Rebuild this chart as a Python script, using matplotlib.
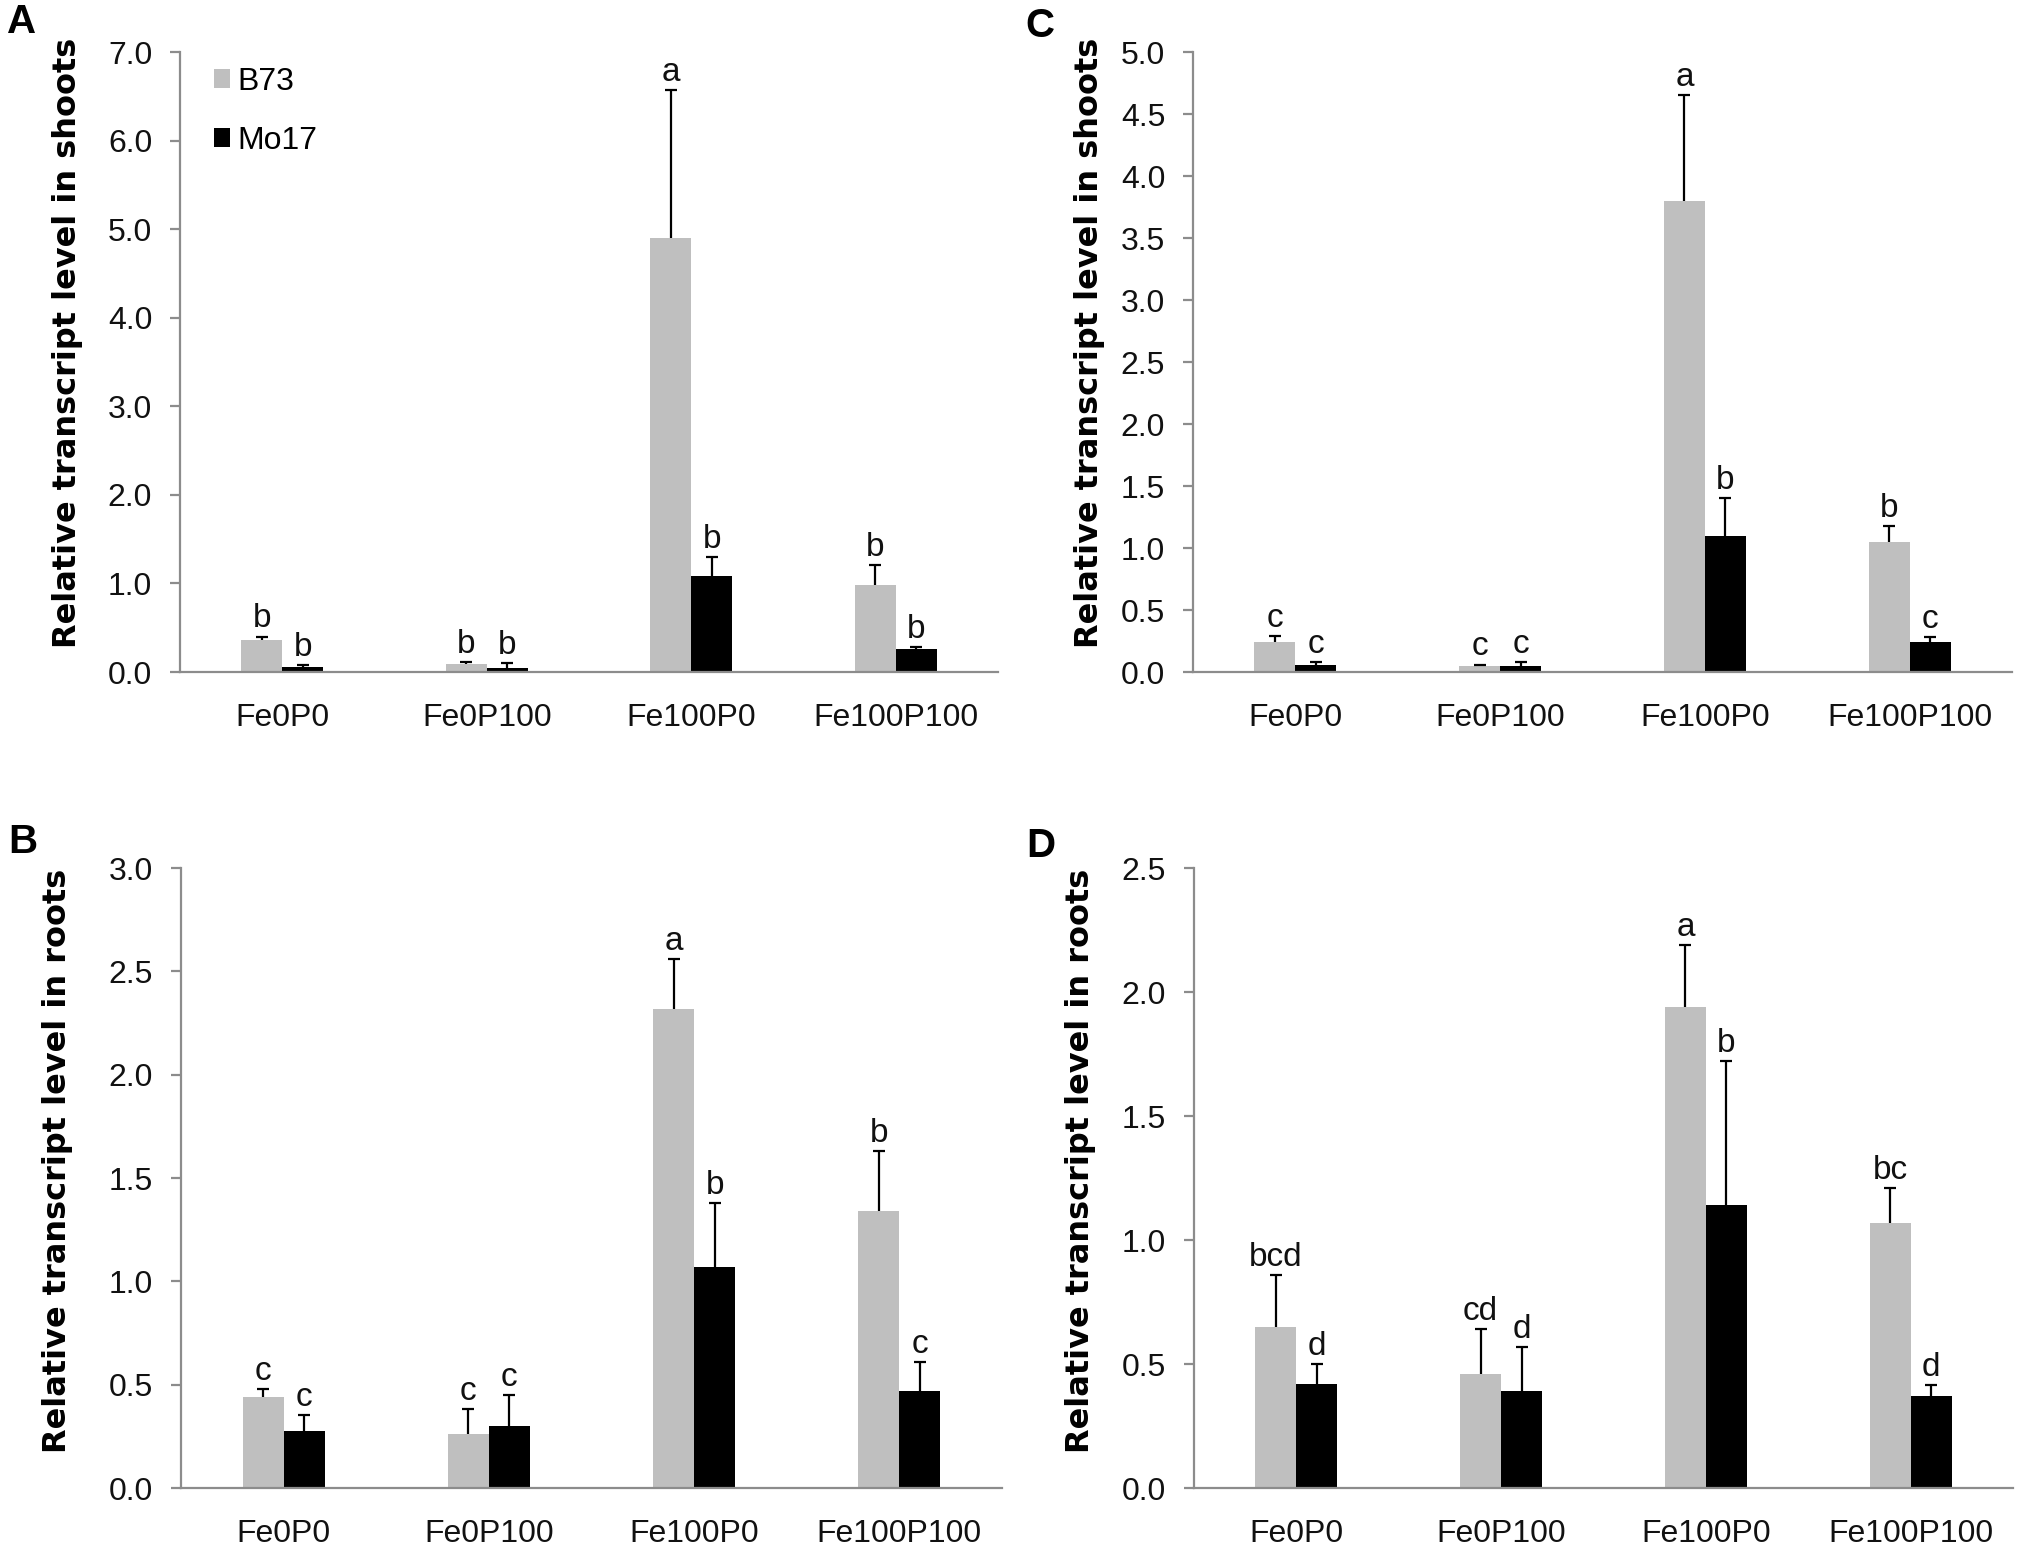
import numpy as np
import matplotlib
matplotlib.use("Agg")
import matplotlib.pyplot as plt
from matplotlib.patches import Patch
from matplotlib import font_manager as fm


def has_font(name):
    try:
        fm.findfont(fm.FontProperties(family=name), fallback_to_default=False)
        return True
    except Exception:
        return False


if has_font('Liberation Sans Narrow'):
    TXT_FAMILY = ['Liberation Sans Narrow', 'Liberation Sans', 'DejaVu Sans']
    TXT_SIZE = 26
    LET_SIZE = 27
else:
    TXT_FAMILY = ['Liberation Sans', 'DejaVu Sans']
    TXT_SIZE = 23
    LET_SIZE = 24

plt.rcParams['font.family'] = TXT_FAMILY

W, H = 2019, 1552
DPI = 100

categories = ["Fe0P0", "Fe0P100", "Fe100P0", "Fe100P100"]
series_names = ["B73", "Mo17"]

# Panel A: shoots
A_b73 = [0.36, 0.09, 4.90, 0.98]
A_b73_err = [0.04, 0.02, 1.67, 0.23]
A_mo17 = [0.06, 0.05, 1.08, 0.26]
A_mo17_err = [0.02, 0.05, 0.22, 0.02]
A_b73_letters = ["b", "b", "a", "b"]
A_mo17_letters = ["b", "b", "b", "b"]
A_yticks = [0.0, 1.0, 2.0, 3.0, 4.0, 5.0, 6.0, 7.0]

# Panel B: roots
B_b73 = [0.44, 0.26, 2.32, 1.34]
B_b73_err = [0.04, 0.12, 0.24, 0.29]
B_mo17 = [0.275, 0.30, 1.07, 0.47]
B_mo17_err = [0.08, 0.15, 0.31, 0.14]
B_b73_letters = ["c", "c", "a", "b"]
B_mo17_letters = ["c", "c", "b", "c"]
B_yticks = [0.0, 0.5, 1.0, 1.5, 2.0, 2.5, 3.0]

# Panel C: shoots
C_b73 = [0.24, 0.05, 3.80, 1.05]
C_b73_err = [0.05, 0.01, 0.85, 0.13]
C_mo17 = [0.06, 0.05, 1.10, 0.24]
C_mo17_err = [0.02, 0.03, 0.30, 0.04]
C_b73_letters = ["c", "c", "a", "b"]
C_mo17_letters = ["c", "c", "b", "c"]
C_yticks = [0.0, 0.5, 1.0, 1.5, 2.0, 2.5, 3.0, 3.5, 4.0, 4.5, 5.0]

# Panel D: roots
D_b73 = [0.65, 0.46, 1.94, 1.07]
D_b73_err = [0.21, 0.18, 0.25, 0.14]
D_mo17 = [0.42, 0.39, 1.14, 0.37]
D_mo17_err = [0.08, 0.18, 0.58, 0.045]
D_b73_letters = ["bcd", "cd", "a", "bc"]
D_mo17_letters = ["d", "d", "b", "d"]
D_yticks = [0.0, 0.5, 1.0, 1.5, 2.0, 2.5]

GRAY = "#bfbfbf"
BLACK = "#000000"
AXCOL = "#8c8c8c"
TXTCOL = "#111111"

fig = plt.figure(figsize=(W / DPI, H / DPI), dpi=DPI)


def add_axes_px(left, right, top, bottom):
    return fig.add_axes([left / W, 1 - bottom / H, (right - left) / W, (bottom - top) / H])


def draw_panel(ax, b73, b73e, mo, moe, bl, ml, yticks, ylabel, label_xy):
    x = np.arange(len(categories))
    w = 0.2
    ax.bar(x - w / 2, b73, width=w, color=GRAY, zorder=2, label=series_names[0])
    ax.bar(x + w / 2, mo, width=w, color=BLACK, zorder=2, label=series_names[1])
    for xs, ys, es in ((x - w / 2, b73, b73e), (x + w / 2, mo, moe)):
        _, caps, _ = ax.errorbar(xs, ys, yerr=[np.zeros(len(es)), es], fmt='none',
                                 ecolor='black', elinewidth=1.6, capsize=4.5,
                                 capthick=1.6, zorder=3)
        if len(caps) > 1:
            caps[0].set_visible(False)
    for xs, ys, es, letters in ((x - w / 2, b73, b73e, bl), (x + w / 2, mo, moe, ml)):
        for xi, yi, ei, lt in zip(xs, ys, es, letters):
            ax.annotate(lt, (xi, yi + ei), xytext=(0, 1.5), textcoords='offset points',
                        ha='center', va='bottom', fontsize=LET_SIZE, color=TXTCOL)
    ax.set_xlim(-0.5, len(categories) - 0.5)
    ax.set_ylim(yticks[0], yticks[-1])
    ax.set_yticks(yticks)
    ax.set_yticklabels([f"{t:.1f}" for t in yticks])
    ax.set_xticks(x)
    ax.set_xticklabels(categories)
    for s in ("top", "right"):
        ax.spines[s].set_visible(False)
    for s in ("left", "bottom"):
        ax.spines[s].set_color(AXCOL)
        ax.spines[s].set_linewidth(1.6)
    ax.tick_params(axis='y', length=7, width=1.6, color=AXCOL, pad=13,
                   labelsize=TXT_SIZE, labelcolor=TXTCOL)
    ax.tick_params(axis='x', length=0, pad=22, labelsize=TXT_SIZE, labelcolor=TXTCOL)
    ax.set_ylabel(ylabel, fontsize=23, fontweight='bold', family=['DejaVu Sans'])
    ax.yaxis.set_label_coords(*label_xy)


# geometry in pixels
axA = add_axes_px(180, 998, 52, 672)
axC = add_axes_px(1193, 2012, 52, 672)
axB = add_axes_px(181, 1002, 868, 1488)
axD = add_axes_px(1194, 2013, 868, 1488)

draw_panel(axA, A_b73, A_b73_err, A_mo17, A_mo17_err, A_b73_letters, A_mo17_letters,
           A_yticks, "Relative transcript level in shoots", ((83 - 180) / 818, 0.5 + 19 / 620))
draw_panel(axC, C_b73, C_b73_err, C_mo17, C_mo17_err, C_b73_letters, C_mo17_letters,
           C_yticks, "Relative transcript level in shoots", ((1105 - 1193) / 819, 0.5 + 19 / 620))
draw_panel(axB, B_b73, B_b73_err, B_mo17, B_mo17_err, B_b73_letters, B_mo17_letters,
           B_yticks, "Relative transcript level in roots", ((73 - 181) / 821, 0.5 + 17 / 620))
draw_panel(axD, D_b73, D_b73_err, D_mo17, D_mo17_err, D_b73_letters, D_mo17_letters,
           D_yticks, "Relative transcript level in roots", ((1096 - 1194) / 819, 0.5 + 17 / 620))

handles = [Patch(facecolor=GRAY, edgecolor='none'), Patch(facecolor=BLACK, edgecolor='none')]
axA.legend(handles, series_names, loc='upper left',
           bbox_to_anchor=((214 - 180) / 818, 1.0 - (67 - 52) / 620),
           frameon=False, fontsize=TXT_SIZE, handlelength=0.5, handleheight=0.56,
           handletextpad=0.22, labelspacing=0.9, borderaxespad=0, borderpad=0)

for lab, px, py in (("A", 7, 3), ("C", 1025, 7), ("B", 8, 823), ("D", 1026, 827)):
    fig.text(px / W, 1 - py / H, lab, fontsize=29, fontweight='bold', ha='left', va='top',
             family=['Liberation Sans', 'DejaVu Sans'])

fig.savefig("out.png", dpi=DPI)
